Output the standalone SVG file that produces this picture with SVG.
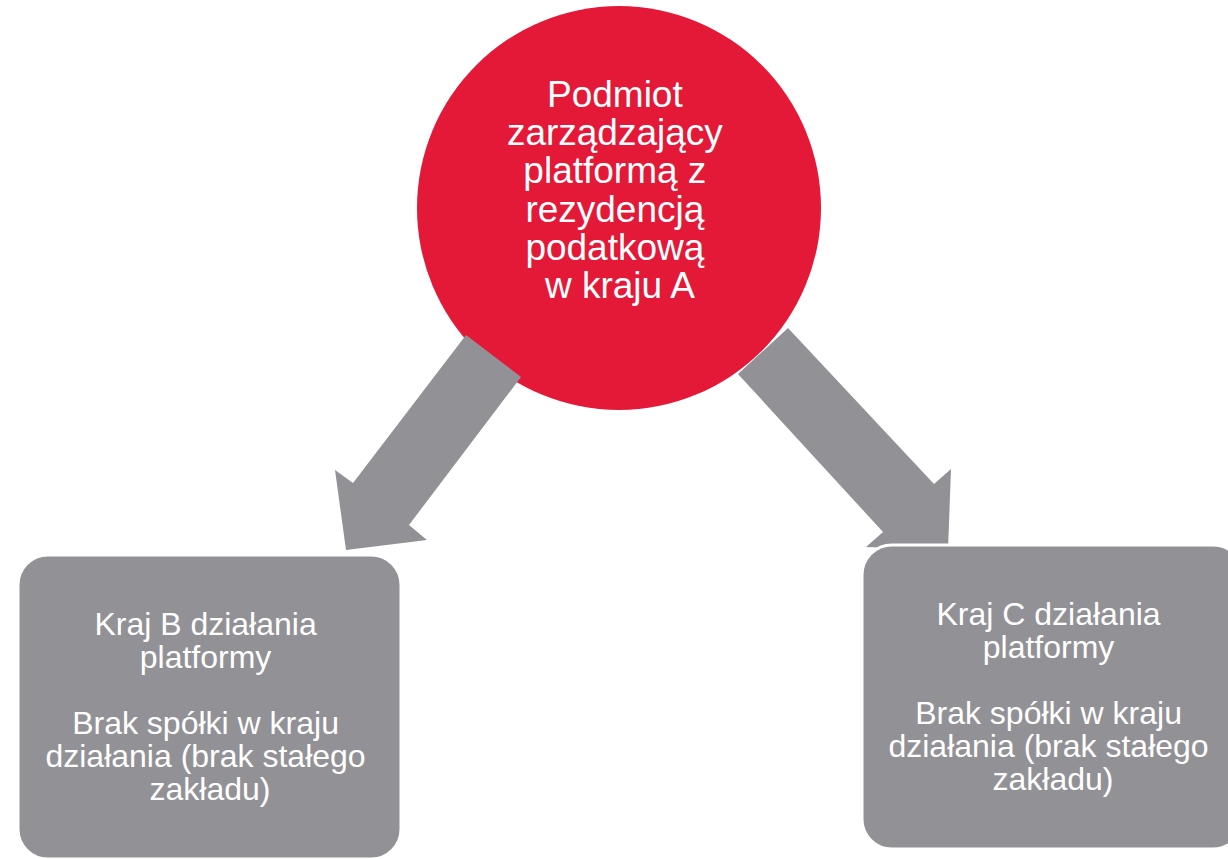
<svg xmlns="http://www.w3.org/2000/svg" width="1228" height="859" viewBox="0 0 1228 859">
<style>
.bg{fill:#ffffff}
.red{fill:#E31937}
.arrow{fill:#929196}
.box{fill:#929196;stroke:#ffffff;stroke-width:3}
.t{font-family:"Liberation Sans",Arial,sans-serif;fill:#ffffff;text-anchor:middle}
.tc{font-size:37px}
.tb{font-size:32px}
</style>
<rect class="bg" x="0" y="0" width="1228" height="859"/>
<g id="node-a">
<circle class="red" cx="619" cy="208" r="202"/>
<text class="t tc">
<tspan x="620" y="107">Podmiot</tspan>
<tspan x="620" y="145">zarządzający</tspan>
<tspan x="620" y="183">platformą z</tspan>
<tspan x="620" y="222">rezydencją</tspan>
<tspan x="620" y="260">podatkową</tspan>
<tspan x="620" y="298">w kraju A</tspan>
</text>
</g>
<g id="connectors">
<polygon class="arrow" points="466,335 521,377 409,525 427,540 346,550 335,470 353,483"/>
<polygon class="arrow" points="788,328 934,484 951,469 948,550 866,547 883,532 738,374"/>
</g>
<g id="node-b">
<rect class="box" x="18" y="555" width="383" height="304" rx="30" ry="30"/>
<text class="t tb">
<tspan x="210" y="635">Kraj B działania</tspan>
<tspan x="210" y="668">platformy</tspan>
<tspan x="210" y="734">Brak spółki w kraju</tspan>
<tspan x="210" y="767">działania (brak stałego</tspan>
<tspan x="210" y="800">zakładu)</tspan>
</text>
</g>
<g id="node-c">
<rect class="box" x="862" y="545" width="381" height="304" rx="30" ry="30"/>
<text class="t tb">
<tspan x="1053" y="625">Kraj C działania</tspan>
<tspan x="1053" y="658">platformy</tspan>
<tspan x="1053" y="724">Brak spółki w kraju</tspan>
<tspan x="1053" y="757">działania (brak stałego</tspan>
<tspan x="1053" y="790">zakładu)</tspan>
</text>
</g>
</svg>
